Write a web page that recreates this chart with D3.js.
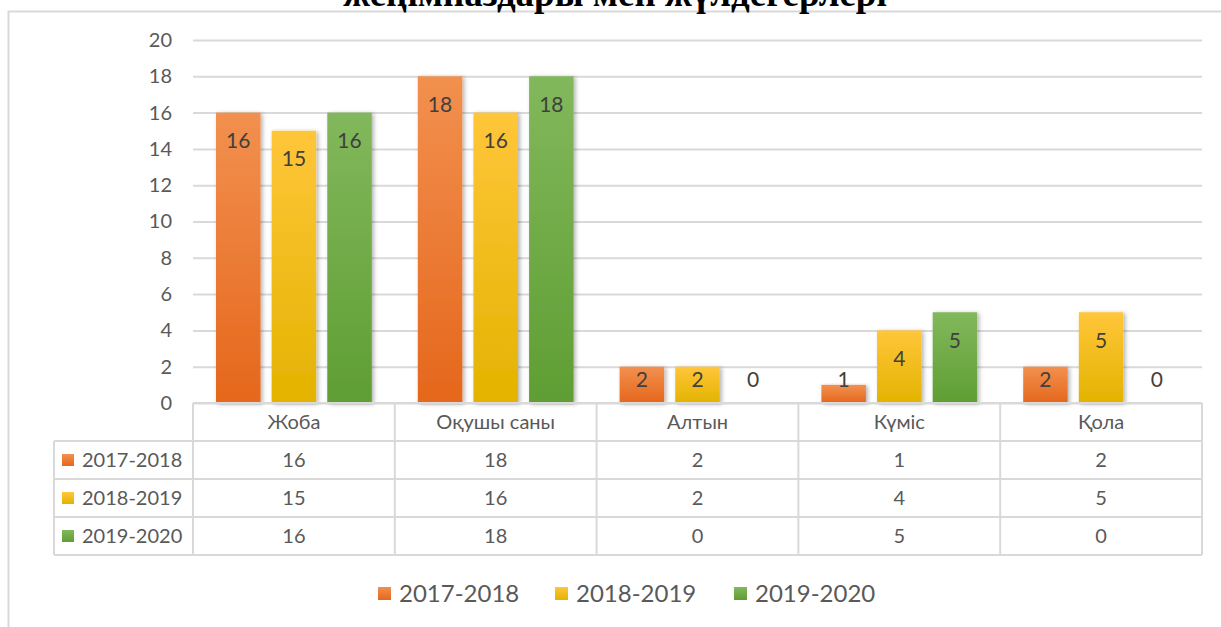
<!DOCTYPE html>
<html>
<head>
<meta charset="utf-8">
<script src="https://cdn.jsdelivr.net/npm/d3@7"></script>
<style>
  body { margin: 0; background: #fff; }
  text { font-family: Lato, "Noto Sans", sans-serif; fill: #595959; }
</style>
</head>
<body>
<script>
// chart data
var categories = ["Жоба", "Оқушы саны", "Алтын", "Күміс", "Қола"];
var seriesNames = ["2017-2018", "2018-2019", "2019-2020"];
var values2017 = [16, 18, 2, 1, 2];
var values2018 = [15, 16, 2, 4, 5];
var values2019 = [16, 18, 0, 5, 0];
var yTickValues = [0, 2, 4, 6, 8, 10, 12, 14, 16, 18, 20];
var titleText = "жеңімпаздары мен жүлдегерлері";

function main(){
	var w = 1221;
	var h = 627;
	var left = 193, right = 1202, top = 40, bottom = 403;
	var rowH = 38;

	var series = [values2017, values2018, values2019];
	var colors = [
		{top: "#f2904f", bottom: "#e5671c"},
		{top: "#ffc63a", bottom: "#e3b300"},
		{top: "#82b85c", bottom: "#5f9e33"}
	];

	var svg = d3.select("body")
				.append("svg")
				.attr("width", w)
				.attr("height", h);

	var defs = svg.append("defs");
	colors.forEach(function(c, i){
		var g = defs.append("linearGradient")
			.attr("id", "grad" + i)
			.attr("x1", 0).attr("y1", 0).attr("x2", 0).attr("y2", 1);
		g.append("stop").attr("offset", "0%").attr("stop-color", c.top);
		g.append("stop").attr("offset", "100%").attr("stop-color", c.bottom);
	});
	var f = defs.append("filter").attr("id", "shadow")
		.attr("x", "-20%").attr("y", "-10%").attr("width", "150%").attr("height", "130%");
	f.append("feDropShadow")
		.attr("dx", 2).attr("dy", 1).attr("stdDeviation", 2)
		.attr("flood-color", "#000").attr("flood-opacity", 0.3);

	// outer frame
	svg.append("path")
		.attr("d", "M8.5," + h + "V11.5H" + w)
		.attr("fill", "none")
		.attr("stroke", "#d9d9d9")
		.attr("stroke-width", 2);

	// title (cut off at the top, as in the source)
	svg.append("text")
		.attr("x", 615)
		.attr("y", 6)
		.attr("text-anchor", "middle")
		.style("font-family", "'Liberation Serif', 'Times New Roman', serif")
		.style("font-weight", "bold")
		.style("font-size", "37px")
		.style("fill", "#000")
		.text(titleText);

	var pIn = 0.228;
	var x0 = d3.scaleBand()
		.domain(categories)
		.range([left, right])
		.paddingInner(pIn)
		.paddingOuter(pIn / 2);

	var x1 = d3.scaleBand()
		.domain(d3.range(series.length))
		.range([0, x0.bandwidth()])
		.paddingInner(0.2);

	var yScale = d3.scaleLinear()
		.domain([0, 20])
		.range([bottom, top]);

	var yAxis = d3.axisLeft(yScale)
		.tickValues(yTickValues)
		.tickSize(-(right - left))
		.tickPadding(21);

	var ga = svg.append("g")
		.attr("class", "yaxis")
		.attr("transform", "translate(" + left + ",0)")
		.call(yAxis);
	ga.select(".domain").remove();
	ga.selectAll(".tick line")
		.attr("stroke", "#d9d9d9")
		.attr("stroke-width", 2);
	ga.selectAll(".tick text")
		.style("font-size", "20px")
		.style("font-family", "Lato, sans-serif")
		.attr("fill", "#595959");

	// bars
	var groups = svg.selectAll(".grp")
		.data(categories)
		.enter()
		.append("g")
		.attr("class", "grp")
		.attr("transform", function(d){ return "translate(" + x0(d) + ",0)"; });

	groups.selectAll("rect")
		.data(function(d, ci){ return series.map(function(s, si){ return {si: si, v: s[ci]}; }); })
		.enter()
		.append("rect")
		.attr("x", function(d){ return x1(d.si); })
		.attr("width", x1.bandwidth())
		.attr("y", function(d){ return yScale(d.v); })
		.attr("height", function(d){ return yScale(0) - yScale(d.v); })
		.attr("fill", function(d){ return "url(#grad" + d.si + ")"; })
		.attr("filter", function(d){ return d.v > 0 ? "url(#shadow)" : null; });

	groups.selectAll(".lbl")
		.data(function(d, ci){ return series.map(function(s, si){ return {si: si, v: s[ci]}; }); })
		.enter()
		.append("text")
		.attr("class", "lbl")
		.attr("x", function(d){ return x1(d.si) + x1.bandwidth() / 2; })
		.attr("y", function(d){ return Math.min(yScale(d.v) + 28, yScale(0) - 23); })
		.attr("dy", "0.35em")
		.attr("text-anchor", "middle")
		.style("font-size", "21px")
		.style("fill", "#404040")
		.text(function(d){ return d.v; });

	// data table
	var step = x0.step();
	var colLeft = function(c){ return x0(c) - step * pIn / 2; };
	var tableLeft = 54;
	var gridColor = "#d9d9d9";
	var tbl = svg.append("g").attr("class", "table");

	// horizontal lines
	tbl.append("line").attr("x1", left).attr("x2", right).attr("y1", bottom).attr("y2", bottom);
	for (var r = 1; r <= series.length + 1; r++){
		tbl.append("line")
			.attr("x1", tableLeft).attr("x2", right)
			.attr("y1", bottom + r * rowH).attr("y2", bottom + r * rowH);
	}
	// vertical lines
	tbl.append("line").attr("x1", tableLeft).attr("x2", tableLeft)
		.attr("y1", bottom + rowH).attr("y2", bottom + rowH * (series.length + 1));
	categories.concat([null]).forEach(function(c){
		var xx = c === null ? right : colLeft(c);
		tbl.append("line").attr("x1", xx).attr("x2", xx)
			.attr("y1", bottom).attr("y2", bottom + rowH * (series.length + 1));
	});
	tbl.selectAll("line").attr("stroke", gridColor).attr("stroke-width", 2);

	// header texts
	tbl.selectAll(".cat")
		.data(categories)
		.enter()
		.append("text")
		.attr("x", function(d){ return colLeft(d) + step / 2; })
		.attr("y", bottom + rowH / 2)
		.attr("dy", "0.35em")
		.attr("text-anchor", "middle")
		.style("font-size", "20px")
		.text(function(d){ return d; });

	series.forEach(function(s, si){
		var cy = bottom + rowH * (si + 1) + rowH / 2;
		tbl.append("rect")
			.attr("x", 62).attr("y", cy - 6).attr("width", 12).attr("height", 12)
			.attr("fill", "url(#grad" + si + ")");
		tbl.append("text")
			.attr("x", 82).attr("y", cy).attr("dy", "0.35em")
			.style("font-size", "20px")
			.text(seriesNames[si]);
		tbl.selectAll(".v" + si)
			.data(s)
			.enter()
			.append("text")
			.attr("x", function(d, ci){ return colLeft(categories[ci]) + step / 2; })
			.attr("y", cy)
			.attr("dy", "0.35em")
			.attr("text-anchor", "middle")
			.style("font-size", "20px")
			.text(function(d){ return d; });
	});

	// legend
	var legX = [378, 555, 734];
	var leg = svg.append("g").attr("class", "legend");
	seriesNames.forEach(function(n, i){
		leg.append("rect")
			.attr("x", legX[i]).attr("y", 587).attr("width", 13).attr("height", 13)
			.attr("fill", "url(#grad" + i + ")");
		leg.append("text")
			.attr("x", legX[i] + 21).attr("y", 594).attr("dy", "0.35em")
			.style("font-size", "24px")
			.text(n);
	});
}

main();
</script>
</body>
</html>
